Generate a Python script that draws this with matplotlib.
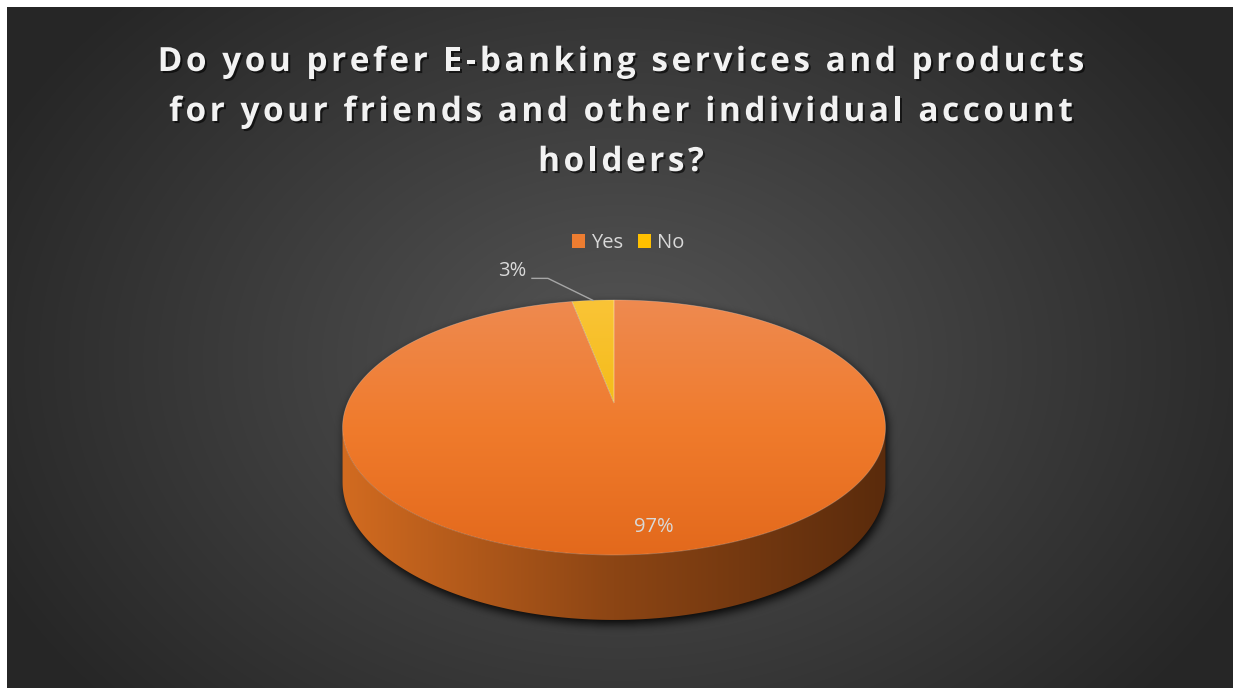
import numpy as np
import matplotlib.pyplot as plt
import matplotlib.patheffects as pe
from matplotlib.colors import to_rgb
from matplotlib.patches import Polygon, Patch
from matplotlib.path import Path
from matplotlib.font_manager import FontProperties, findfont, get_font

labels = ["Yes", "No"]
shares = [97, 3]
title_lines = ["Do you prefer E-banking services and products",
               "for your friends and other individual account",
               "holders?"]

W, H = 1236, 688

# per-slice colours: legend swatch, top face ramp (back -> front), side ramp (left -> right)
swatch = {"Yes": "#ED7D31", "No": "#FFC000"}
top_ramp = {"Yes": ["#EE8A50", "#F07B2C", "#E3691C"],
            "No": ["#FAC437", "#F3BA12", "#E6AE00"]}
side_ramp = {"Yes": ["#D26B20", "#8C4514", "#5A2B0C"],
             "No": ["#C89600", "#8A6800", "#5C4500"]}

# pie placement in pixels, with a little perspective (front is nearer)
CX, CY = 614, 403
RX, RY = 266.4, 122.8
PERSP = 0.192
DEPTH = 52.5


def ramp(t, colors):
    t = np.clip(t, 0, 1)
    pos = np.linspace(0, 1, len(colors))
    rgb = np.array([to_rgb(c) for c in colors])
    return np.stack([np.interp(t, pos, rgb[:, i]) for i in range(3)], axis=-1)


def project(phi, r=1.0):
    phi = np.radians(phi)
    u = r * np.sin(phi)
    v = -r * np.cos(phi)
    w = 1 - PERSP * v
    return CX + RX * u / w, CY + RY * v / w


def drop(phi):
    v = -np.cos(np.radians(phi))
    return DEPTH / (1 - PERSP * v)


def box_blur(a, r):
    for axis in (0, 1):
        pad = [(0, 0), (0, 0)]
        pad[axis] = (r + 1, r)
        c = np.cumsum(np.pad(a, pad, mode="edge"), axis=axis)
        if axis == 0:
            a = (c[2 * r + 1:] - c[:-2 * r - 1]) / (2 * r + 1)
        else:
            a = (c[:, 2 * r + 1:] - c[:, :-2 * r - 1]) / (2 * r + 1)
    return a


def spaced_text(ax, xc, y, s, prop, tracking, **kw):
    # centred line of text with extra space between the letters
    font = get_font(findfont(prop))
    font.set_size(prop.get_size_in_points(), 100)
    adv = []
    for ch in s:
        g = font.load_char(ord(ch))
        adv.append(g.linearHoriAdvance / 65536)
    width = sum(adv) + tracking * (len(s) - 1)
    x = xc - width / 2
    for ch, a in zip(s, adv):
        if ch != " ":
            ax.text(x, y, ch, fontproperties=prop, ha="left", va="baseline", **kw)
        x += a + tracking


fig = plt.figure(figsize=(W / 100, H / 100), dpi=100, facecolor="white")
ax = fig.add_axes([0, 0, 1, 1])
ax.set_axis_off()

# dark radial background
x0, x1, y0, y1 = 7, W - 3, 7, H
yy, xx = np.mgrid[y0:y1, x0:x1] + 0.5
rr = np.hypot((xx - 620) / 700, (yy - 360) / 520)
ax.imshow(ramp(rr, ["#555555", "#262626"]), extent=(x0, x1, y1, y0),
          interpolation="bilinear", zorder=0)

# silhouette of the whole cylinder
phi_side = np.degrees(np.arccos(-PERSP))        # where the side wall turns away
back = np.linspace(-phi_side, phi_side, 300)
front = np.linspace(phi_side, 360 - phi_side, 300)
bx, by = project(back)
fx, fy = project(front)
outline = np.column_stack([np.r_[bx, fx], np.r_[by, fy + drop(front)]])

# soft shadow under the cylinder
sx0, sx1, sy0, sy1 = 300, 940, 260, 680
gy, gx = np.mgrid[sy0:sy1, sx0:sx1] + 0.5
pts = np.column_stack([gx.ravel() - 2, gy.ravel() - 4])
mask = Path(outline).contains_points(pts).reshape(gx.shape).astype(float)
for _ in range(3):
    mask = box_blur(mask, 4)
shadow = np.zeros(mask.shape + (4,))
shadow[..., 3] = mask * 0.9
ax.imshow(shadow, extent=(sx0, sx1, sy1, sy0), interpolation="bilinear", zorder=1)

total = sum(shares)
edges = np.r_[0, np.cumsum(shares)] * 360 / total

# side walls (front half only)
left_x, right_x = CX - RX / np.sqrt(1 - PERSP ** 2), CX + RX / np.sqrt(1 - PERSP ** 2)
for lab, a0, a1 in zip(labels, edges[:-1], edges[1:]):
    s0, s1 = max(a0, phi_side), min(a1, 360 - phi_side)
    if s1 <= s0:
        continue
    ph = np.linspace(s0, s1, 200)
    px, py = project(ph)
    poly = Polygon(np.column_stack([np.r_[px, px[::-1]],
                                    np.r_[py, (py + drop(ph))[::-1]]]),
                   closed=True, facecolor="none", edgecolor="none",
                   transform=ax.transData)
    ax.add_patch(poly)
    cols = np.arange(int(left_x), int(right_x) + 1) + 0.5
    img = ramp((cols - left_x) / (right_x - left_x), side_ramp[lab])[None, :, :]
    im = ax.imshow(img, extent=(int(left_x), int(right_x) + 1, 640, 400),
                   interpolation="bilinear", zorder=2)
    im.set_clip_path(poly)

# top faces
top_y, bot_y = project(0)[1], project(180)[1]
for lab, a0, a1 in zip(labels, edges[:-1], edges[1:]):
    ph = np.linspace(a0, a1, max(int((a1 - a0) * 2), 8))
    px, py = project(ph)
    poly = Polygon(np.column_stack([np.r_[CX, px], np.r_[CY, py]]), closed=True,
                   facecolor="none", edgecolor=(1, 1, 1, 0.25), linewidth=0.6,
                   zorder=4, transform=ax.transData)
    ax.add_patch(poly)
    rows = np.arange(int(top_y) - 2, int(bot_y) + 3) + 0.5
    img = ramp((rows - top_y) / (bot_y - top_y), top_ramp[lab])[:, None, :]
    im = ax.imshow(img, extent=(CX - 300, CX + 300, int(bot_y) + 3, int(top_y) - 2),
                   interpolation="bilinear", zorder=3)
    im.set_clip_path(poly)

# data labels
label_font = FontProperties(family="Open Sans", size=14.5)
label_color = "#D9D9D9"
for lab, val, a0, a1 in zip(labels, shares, edges[:-1], edges[1:]):
    mid = (a0 + a1) / 2
    text = f"{val}%"
    if a1 - a0 < 30:
        # small slice: label outside with a leader line
        ex, ey = project(mid)
        ax.plot([ex - 61, ex - 45, ex], [ey - 22, ey - 22, ey], color="#A6A6A6",
                lw=1.0, zorder=5)
        ax.text(ex - 81, ey - 29, text, fontproperties=label_font, color=label_color,
                ha="center", va="center", zorder=6)
    else:
        px, py = project(mid, 0.85)
        ax.text(px + 14, py, text, fontproperties=label_font, color=label_color,
                ha="center", va="center", zorder=6)

# legend
handles = [Patch(facecolor=swatch[l], edgecolor="none", label=l) for l in labels]
ax.legend(handles=handles, loc="center", bbox_to_anchor=(628 / W, 1 - 243 / H),
          bbox_transform=fig.transFigure, ncol=2, frameon=False,
          handlelength=0.65, handleheight=0.65, handletextpad=0.3,
          columnspacing=0.75, prop=label_font, labelcolor=label_color)

# title with drop shadow and wide letter spacing
title_font = FontProperties(family="Open Sans", weight="bold", size=24)
shadow_fx = [pe.SimplePatchShadow(offset=(1.5, -1.5), shadow_rgbFace="black", alpha=0.6),
             pe.Normal()]
for i, line in enumerate(title_lines):
    spaced_text(ax, 621, 71 + 50 * i, line, title_font, 3.5,
                color="#F2F2F2", zorder=7, path_effects=shadow_fx)

ax.set_xlim(0, W)
ax.set_ylim(H, 0)
ax.set_aspect("auto")
fig.savefig("out.png", dpi=100, facecolor="white")
